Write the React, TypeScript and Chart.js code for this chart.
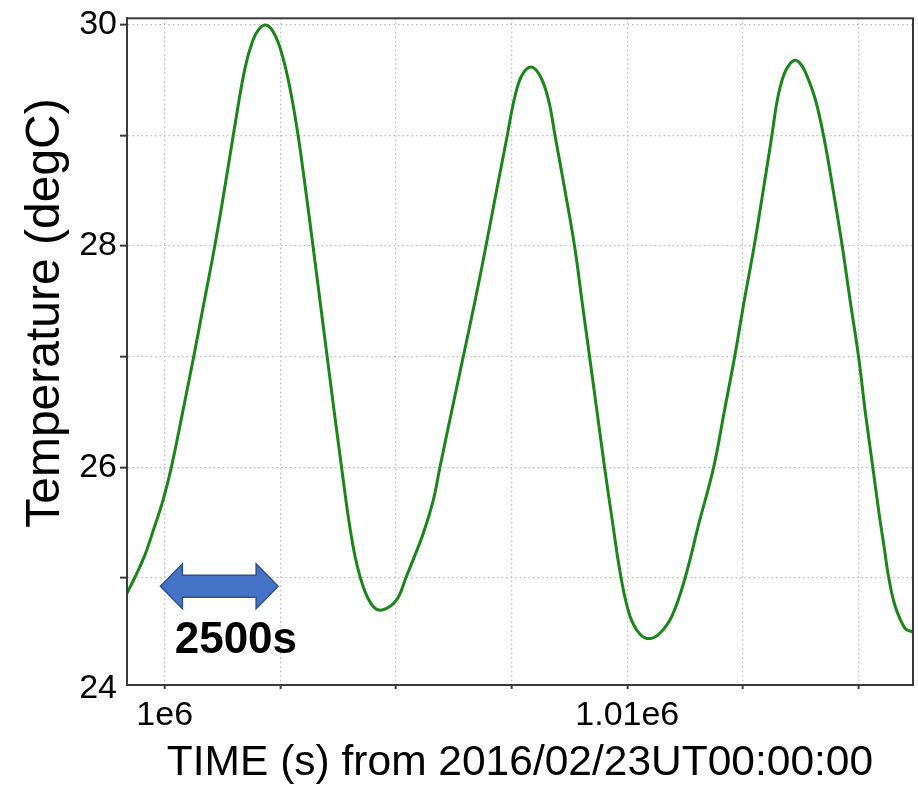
import React, { useEffect, useRef } from 'react';
import { Chart, registerables } from 'chart.js';

Chart.register(...registerables);

// ---- data ----
const TIME_S = [
  999184, 999351, 999567, 999747, 999963, 1000145, 1000389, 1000627, 1000855, 1001082,
  1001287, 1001482, 1001731, 1001904, 1002034, 1002164, 1002293, 1002445, 1002596, 1002748,
  1002884, 1002992, 1003206, 1003512, 1003823, 1004074, 1004290, 1004507, 1004717, 1005013,
  1005214, 1005387, 1005589, 1005805, 1005950, 1006201, 1006454, 1006707, 1006945, 1007183,
  1007406, 1007558, 1007718, 1007919, 1008114, 1008293, 1008438, 1008654, 1008860, 1009022,
  1009185, 1009347, 1009509, 1009682, 1009866, 1010061, 1010277, 1010494, 1010710, 1010963,
  1011251, 1011554, 1011868, 1012095, 1012322, 1012527, 1012744, 1012938, 1013126, 1013248,
  1013377, 1013501, 1013631, 1013760, 1013884, 1014063, 1014243, 1014453, 1014647, 1014820,
  1015000, 1015145, 1015308, 1015437, 1015545, 1015653, 1015794, 1016010, 1016177,
];
const TEMP_C = [
  24.86, 25.0, 25.2, 25.42, 25.7, 26.0, 26.5, 27.0, 27.5, 28.0,
  28.5, 29.0, 29.6, 29.86, 29.96, 30.0, 29.97, 29.85, 29.64, 29.34,
  29.0, 28.68, 28.0, 27.0, 26.0, 25.28, 24.92, 24.74, 24.71, 24.8,
  25.0, 25.18, 25.4, 25.7, 26.0, 26.5, 27.0, 27.5, 28.0, 28.52,
  29.0, 29.33, 29.54, 29.62, 29.54, 29.33, 29.0, 28.5, 28.0, 27.5,
  27.0, 26.5, 26.0, 25.5, 25.0, 24.65, 24.49, 24.45, 24.5, 24.65,
  25.0, 25.5, 26.0, 26.5, 27.0, 27.5, 28.0, 28.5, 29.0, 29.33,
  29.54, 29.64, 29.68, 29.64, 29.54, 29.33, 29.0, 28.5, 28.0, 27.5,
  27.0, 26.5, 26.0, 25.6, 25.3, 25.0, 24.74, 24.54, 24.51,
];

const X_TICKS = [1000000, 1002500, 1005000, 1007500, 1010000, 1012500, 1015000];
const X_TICK_LABELS: Record<number, string> = { 1000000: '1e6', 1010000: '1.01e6' };
const Y_TICKS = [24, 25, 26, 27, 28, 29, 30];
const Y_TICK_LABELS: Record<number, string> = { 24: '24', 26: '26', 28: '28', 30: '30' };

const X_TITLE = 'TIME (s) from 2016/02/23UT00:00:00';
const Y_TITLE = 'Temperature (degC)';
const ARROW_LABEL = '2500s';

// annotation anchor (data units)
const ARROW_FROM = 999907;
const ARROW_TO = 1002452;
const ARROW_Y = 24.923;
const LABEL_X = 1000216;
const LABEL_Y = 24.319;

const X_MIN = 999185;
const X_MAX = 1016177;
const Y_MIN = 24.03;
const Y_MAX = 30.06;

const FONT = 'Arial, "Liberation Sans", Helvetica, sans-serif';
const GRID = '#bdbdbd';
const AXIS = '#3a3a3a';

const decorPlugin = {
  id: 'decor',
  afterDatasetsDraw(chart: any) {
    const { ctx, chartArea, scales } = chart;
    const xs = scales.x;
    const ys = scales.y;
    ctx.save();
    // box
    ctx.strokeStyle = AXIS;
    ctx.lineWidth = 2;
    ctx.strokeRect(chartArea.left, chartArea.top, chartArea.right - chartArea.left, chartArea.bottom - chartArea.top);

    // double arrow
    const x1 = xs.getPixelForValue(ARROW_FROM);
    const x2 = xs.getPixelForValue(ARROW_TO);
    const yc = ys.getPixelForValue(ARROW_Y);
    const headL = 22;
    const headH = 22.5;
    const shaftH = 11;
    ctx.beginPath();
    ctx.moveTo(x1, yc);
    ctx.lineTo(x1 + headL, yc - headH);
    ctx.lineTo(x1 + headL, yc - shaftH);
    ctx.lineTo(x2 - headL, yc - shaftH);
    ctx.lineTo(x2 - headL, yc - headH);
    ctx.lineTo(x2, yc);
    ctx.lineTo(x2 - headL, yc + headH);
    ctx.lineTo(x2 - headL, yc + shaftH);
    ctx.lineTo(x1 + headL, yc + shaftH);
    ctx.lineTo(x1 + headL, yc + headH);
    ctx.closePath();
    ctx.fillStyle = '#4472C4';
    ctx.fill();
    ctx.strokeStyle = '#2F528F';
    ctx.lineWidth = 1.5;
    ctx.stroke();

    // label
    ctx.fillStyle = '#000';
    ctx.font = `bold 44px ${FONT}`;
    ctx.textAlign = 'left';
    ctx.textBaseline = 'alphabetic';
    ctx.fillText(ARROW_LABEL, xs.getPixelForValue(LABEL_X), ys.getPixelForValue(LABEL_Y));

    // y axis title
    ctx.translate(59, 313);
    ctx.rotate(-Math.PI / 2);
    ctx.font = `48px ${FONT}`;
    ctx.textAlign = 'center';
    ctx.fillText(Y_TITLE, 0, 0);
    ctx.restore();
  },
};

export default function App() {
  const ref = useRef<HTMLCanvasElement | null>(null);
  useEffect(() => {
    if (!ref.current) return;
    const points = TIME_S.map((t, i) => ({ x: t, y: TEMP_C[i] }));
    const chart = new Chart(ref.current, {
      type: 'line',
      data: {
        datasets: [
          {
            data: points,
            borderColor: '#1A861A',
            borderWidth: 3,
            pointRadius: 0,
            tension: 0.4,
            fill: false,
          },
        ],
      },
      options: {
        animation: false,
        responsive: true,
        maintainAspectRatio: false,
        layout: { padding: { top: 16, right: 5, left: 0, bottom: 0 } },
        plugins: { legend: { display: false }, tooltip: { enabled: false } },
        scales: {
          x: {
            type: 'linear',
            min: X_MIN,
            max: X_MAX,
            afterBuildTicks: (s: any) => {
              s.ticks = X_TICKS.map((v) => ({ value: v }));
            },
            afterFit: (s: any) => {
              s.height = 104;
            },
            ticks: {
              autoSkip: false,
              maxRotation: 0,
              color: '#000',
              padding: 6,
              font: { size: 34, family: FONT },
              callback: (v: any) => X_TICK_LABELS[v] ?? '',
            },
            grid: { color: GRID, lineWidth: 1.3, tickLength: 4, tickColor: AXIS, tickWidth: 2 },
            border: { display: true, color: AXIS, width: 2, dash: [1.5, 3] },
            title: {
              display: true,
              text: X_TITLE,
              color: '#000',
              font: { size: 42.5, family: FONT, lineHeight: 1.2 },
              padding: { top: 0, bottom: 0 },
            },
          },
          y: {
            type: 'linear',
            min: Y_MIN,
            max: Y_MAX,
            afterBuildTicks: (s: any) => {
              s.ticks = Y_TICKS.map((v) => ({ value: v }));
            },
            afterFit: (s: any) => {
              s.width = 127;
            },
            ticks: {
              color: '#000',
              padding: 3,
              font: { size: 34, family: FONT, lineHeight: 0.9 },
              callback: (v: any) => Y_TICK_LABELS[v] ?? '',
            },
            grid: {
              color: (c: any) => (c.tick && c.tick.value === 24 ? 'rgba(0,0,0,0)' : GRID),
              lineWidth: 1.3,
              tickLength: 7,
              tickColor: (c: any) => (c.tick && c.tick.value === 24 ? 'rgba(0,0,0,0)' : AXIS),
              tickWidth: 2,
            },
            border: { display: true, color: AXIS, width: 2, dash: [1.5, 3] },
          },
        },
      },
      plugins: [decorPlugin],
    } as any);
    return () => chart.destroy();
  }, []);

  return (
    <div style={{ position: 'fixed', left: 0, top: 0, width: 918, height: 789, background: '#fff' }}>
      <canvas ref={ref} />
    </div>
  );
}
